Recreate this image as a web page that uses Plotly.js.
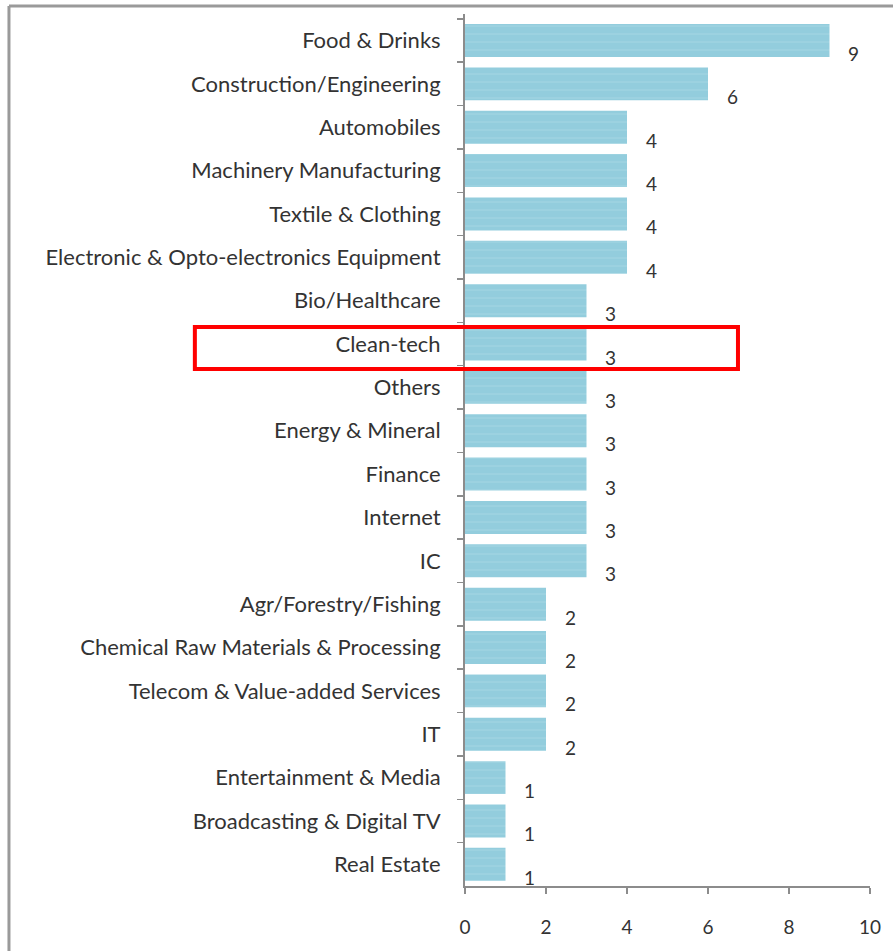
<!DOCTYPE html>
<html>
<head>
<meta charset="utf-8">
<script src="https://cdn.plot.ly/plotly-3.0.1.min.js"></script>
<style>
html,body{margin:0;padding:0;background:#fff;}
#chart{width:893px;height:951px;}
</style>
</head>
<body>
<div id="chart"></div>
<script>
var categories = [
  "Food & Drinks",
  "Construction/Engineering",
  "Automobiles",
  "Machinery Manufacturing",
  "Textile & Clothing",
  "Electronic & Opto-electronics Equipment",
  "Bio/Healthcare",
  "Clean-tech",
  "Others",
  "Energy & Mineral",
  "Finance",
  "Internet",
  "IC",
  "Agr/Forestry/Fishing",
  "Chemical Raw Materials & Processing",
  "Telecom & Value-added Services",
  "IT",
  "Entertainment & Media",
  "Broadcasting & Digital TV",
  "Real Estate"
];
var values = [9, 6, 4, 4, 4, 4, 3, 3, 3, 3, 3, 3, 3, 2, 2, 2, 2, 1, 1, 1];
var xTicks = [0, 2, 4, 6, 8, 10];

var fontFam = "Lato, 'Open Sans', sans-serif";
var textColor = "#333333";

var trace = {
  type: "bar",
  orientation: "h",
  x: values,
  y: categories,
  marker: {
    color: "#93CDDD",
    line: {width: 0},
    pattern: {shape: "-", fgcolor: "#aad8e4", bgcolor: "#93CDDD", size: 8, solidity: 0.2, fillmode: "overlay"}
  },
  hoverinfo: "x+y"
};

var annotations = categories.map(function(c, i){
  return {
    x: values[i], y: c, xref: "x", yref: "y",
    text: String(values[i]), showarrow: false,
    xanchor: "center", yanchor: "middle",
    xshift: 24, yshift: -13,
    font: {family: fontFam, size: 19, color: textColor}
  };
});

var shapes = [
  {type: "line", xref: "paper", yref: "paper", x0: -1.126, x1: 1.06, y0: 1.0093, y1: 1.0093, line: {color: "#9a9a9a", width: 3}},
  {type: "line", xref: "paper", yref: "paper", x0: -1.126, x1: -1.126, y0: 1.0093, y1: -0.08, line: {color: "#9a9a9a", width: 3}},
  {type: "rect", xref: "paper", yref: "paper", x0: -0.667, x1: 0.674, y0: 0.593, y1: 0.641, line: {color: "#ff0000", width: 4}, fillcolor: "rgba(0,0,0,0)"}
];

var layout = {
  width: 893, height: 951,
  margin: {l: 465, r: 23, t: 14, b: 65, pad: 0},
  paper_bgcolor: "#fff", plot_bgcolor: "#fff",
  bargap: 0.24,
  showlegend: false,
  xaxis: {
    range: [0, 10],
    tickvals: xTicks,
    ticktext: xTicks.map(String),
    showgrid: false, zeroline: false,
    showline: true, linecolor: "#8c8c8c", linewidth: 2,
    ticks: "outside", ticklen: 6, tickcolor: "#8c8c8c", tickwidth: 1.5,
    ticklabelstandoff: 17,
    tickfont: {family: fontFam, size: 19, color: textColor},
    fixedrange: true
  },
  yaxis: {
    type: "category",
    autorange: "reversed",
    showgrid: false, zeroline: false,
    showline: true, linecolor: "#8c8c8c", linewidth: 2,
    ticks: "outside", ticklen: 6, tickcolor: "#8c8c8c", tickwidth: 1.5,
    tickson: "boundaries",
    ticklabelstandoff: 18,
    tickfont: {family: fontFam, size: 22, color: textColor},
    fixedrange: true
  },
  annotations: annotations,
  shapes: shapes
};

Plotly.newPlot("chart", [trace], layout, {displayModeBar: false, staticPlot: true});
</script>
</body>
</html>
